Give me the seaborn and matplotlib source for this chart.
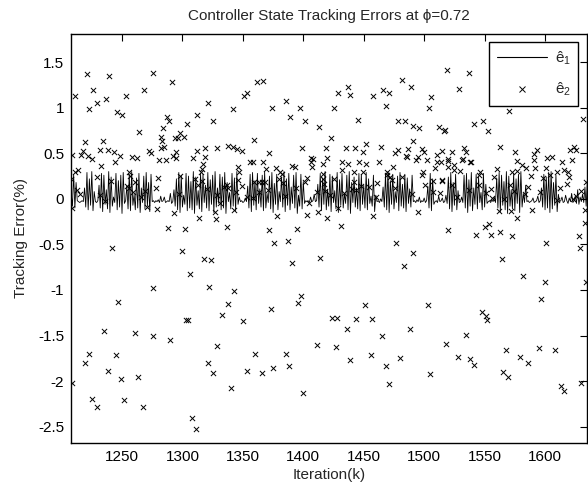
import numpy as np
import pandas as pd
import matplotlib
matplotlib.use("Agg")
import matplotlib.pyplot as plt
import seaborn as sns
from matplotlib.lines import Line2D

# ---------------- data ----------------
iter_start = 1208
e1 = [
    0.05, -0.08, 0.27, -0.10, 0.18, -0.02, -0.03, -0.04, -0.03, -0.02, -0.03, 0.12, -0.09, 0.29, -0.12, 0.22, -0.07, 0.30, -0.13, 0.08,
    -0.03, -0.04, -0.02, 0.15, -0.10, 0.28, -0.14, 0.26, -0.06, 0.10, -0.11, 0.30, -0.15, 0.24, -0.08, 0.02, -0.04, 0.28, -0.12, 0.20,
    -0.09, 0.26, -0.16, 0.29, -0.05, -0.02, 0.14, -0.11, 0.27, -0.13, 0.30, -0.07, 0.05, -0.12, 0.23, -0.10, 0.28, -0.15, 0.12, -0.04,
    0.25, -0.11, 0.29, -0.08, 0.18, -0.14, 0.27, -0.03, -0.02, -0.04, -0.02, -0.03, -0.01, -0.04, 0.03, -0.03, -0.02, 0.02, -0.04, -0.03,
    -0.02, -0.03, 0.06, -0.05, -0.03, 0.10, -0.08, 0.22, -0.12, 0.29, -0.15, 0.26, -0.09, 0.04, -0.06, 0.28, -0.13, 0.25, -0.10, 0.19,
    -0.12, 0.30, -0.16, 0.24, -0.07, 0.09, -0.11, 0.28, -0.14, 0.27, -0.04, 0.15, -0.10, 0.29, -0.13, 0.21, -0.06, 0.26, -0.15, 0.30,
    -0.09, 0.12, -0.05, 0.27, -0.12, 0.24, -0.10, 0.29, -0.16, 0.18, -0.03, 0.07, -0.11, 0.28, -0.08, 0.23, -0.13, 0.30, -0.06, 0.02,
    -0.03, -0.02, -0.04, -0.03, 0.01, -0.03, 0.14, -0.10, 0.27, -0.14, 0.29, -0.07, 0.20, -0.12, 0.28, -0.05, 0.11, -0.09, 0.26, -0.13,
    0.30, -0.10, 0.06, -0.04, 0.25, -0.11, 0.29, -0.15, 0.17, -0.06, 0.27, -0.12, 0.08, -0.03, 0.24, -0.09, 0.30, -0.14, 0.22, -0.07,
    0.28, -0.12, 0.13, -0.05, 0.26, -0.10, 0.29, -0.16, 0.04, -0.08, 0.27, -0.11, 0.19, -0.05, -0.02, -0.03, -0.02, -0.04, 0.02, -0.03,
    -0.02, 0.05, -0.03, -0.02, 0.16, -0.09, 0.28, -0.13, 0.23, -0.06, 0.30, -0.12, 0.10, -0.08, 0.27, -0.14, 0.25, -0.04, 0.09, -0.11,
    0.29, -0.15, 0.21, -0.07, 0.28, -0.10, 0.06, -0.05, 0.26, -0.12, 0.30, -0.16, 0.18, -0.04, 0.24, -0.09, 0.12, -0.11, 0.28, -0.13,
    0.27, -0.06, 0.15, -0.10, 0.29, -0.12, 0.22, -0.05, 0.03, -0.08, 0.26, -0.14, 0.04, -0.03, -0.02, -0.04, 0.00, -0.03, 0.13, -0.09,
    0.28, -0.12, 0.30, -0.15, 0.20, -0.06, 0.27, -0.11, 0.08, -0.04, 0.25, -0.13, 0.29, -0.08, 0.16, -0.10, 0.27, -0.14, 0.23, -0.05,
    0.11, -0.09, 0.26, -0.03, -0.02, -0.04, -0.01, -0.03, 0.02, -0.04, -0.02, -0.03, 0.01, -0.04, -0.02, 0.14, -0.10, 0.28, -0.13, 0.22,
    -0.06, -0.03, -0.02, -0.04, 0.03, -0.03, -0.02, 0.01, -0.04, -0.03, 0.04, -0.05, 0.24, -0.11, 0.29, -0.14, 0.18, -0.07, 0.27, -0.12,
    0.09, -0.04, -0.03, 0.02, -0.04, 0.26, -0.10, 0.28, -0.15, 0.21, -0.08, 0.29, -0.13, 0.12, -0.06, 0.27, -0.11, 0.24, -0.04, 0.07,
    -0.12, 0.28, -0.09, 0.16, -0.05, -0.03, -0.02, -0.04, -0.01, -0.03, 0.02, -0.04, 0.23, -0.10, 0.29, -0.14, 0.26, -0.07, 0.19, -0.12,
    0.30, -0.16, 0.25, -0.08, 0.10, -0.11, 0.28, -0.13, 0.22, -0.05, 0.27, -0.15, 0.30, -0.09, 0.06, -0.04, 0.15, -0.03, -0.02, -0.04,
    -0.03, -0.02, 0.01, -0.04, -0.03, -0.02, 0.03, -0.04, -0.02, 0.12, -0.09, 0.27, -0.12, 0.24, -0.10, 0.29, -0.15, 0.30, -0.11, 0.18,
    -0.07, 0.26, -0.14, 0.05, -0.03, -0.02, 0.02, -0.04, -0.03, 0.04, -0.02, -0.05, 0.01, -0.03, 0.06, -0.04, -0.02, 0.03, -0.05, 0.10,
    -0.06, 0.02, -0.03, 0.05, -0.04, 0.13, -0.08, 0.20,
]

e2_x = [
    # negative outliers
    1209, 1271, 1279, 1293, 1314, 1327, 1328, 1343, 1288, 1302, 1337, 1242, 1300, 1318, 1324, 1306,
    1276, 1322, 1343, 1247, 1338, 1333, 1303, 1305, 1350, 1235, 1261, 1276, 1290, 1329, 1223, 1245,
    1360, 1219, 1321, 1238, 1325, 1353, 1249, 1263, 1209, 1340, 1225, 1252, 1229, 1267, 1308, 1311,
    1378, 1403, 1412, 1420, 1429, 1458, 1495, 1372, 1395, 1431, 1520, 1376, 1387, 1477, 1491, 1391,
    1414, 1483, 1398, 1396, 1373, 1451, 1503, 1424, 1428, 1444, 1457, 1436, 1488, 1465, 1411, 1427,
    1518, 1386, 1439, 1456, 1480, 1366, 1375, 1388, 1468, 1505, 1471, 1400,
    1562, 1572, 1577, 1589, 1633, 1543, 1550, 1554, 1555, 1563, 1573, 1601, 1628, 1629, 1633, 1564,
    1582, 1600, 1634, 1597, 1548, 1551, 1552, 1535, 1528, 1538, 1541, 1568, 1579, 1586, 1595, 1608,
    1565, 1569, 1613, 1616, 1630,
    # positive points, left part
    1221, 1239, 1276, 1291, 1211, 1226, 1229, 1237, 1253, 1268, 1223, 1246, 1250, 1287, 1289, 1284,
    1304, 1312, 1264, 1321, 1325, 1353, 1351, 1342, 1362, 1359, 1234, 1219, 1296, 1298, 1301, 1283,
    1282, 1294, 1282, 1285, 1319, 1329, 1342, 1338, 1349, 1209, 1216, 1218, 1222, 1225, 1232, 1238,
    1243, 1244, 1248, 1258, 1262, 1272, 1274, 1281, 1286, 1292, 1295, 1295, 1309, 1312, 1319, 1317,
    1316, 1315, 1345, 1346, 1347, 1356, 1358, 1233, 1214, 1211, 1208, 1213, 1229, 1256, 1257, 1241,
    1254, 1256, 1261, 1269, 1232, 1280, 1298, 1310, 1316, 1320, 1329, 1337, 1334, 1338, 1346, 1349,
    1353, 1358, 1363, 1363,
    # positive points, middle part
    1519, 1367, 1482, 1489, 1437, 1429, 1439, 1458, 1466, 1471, 1506, 1386, 1374, 1397, 1425, 1468,
    1504, 1389, 1401, 1445, 1478, 1484, 1413, 1491, 1496, 1512, 1517, 1423, 1491, 1399, 1419, 1435,
    1443, 1452, 1464, 1487, 1372, 1449, 1478, 1476, 1498, 1500, 1515, 1511, 1367, 1369, 1377, 1381,
    1382, 1391, 1393, 1406, 1408, 1406, 1407, 1416, 1416, 1420, 1432, 1432, 1437, 1442, 1446, 1449,
    1452, 1463, 1469, 1474, 1485, 1486, 1493, 1495, 1502, 1509, 1511, 1514, 1520, 1359, 1366, 1368,
    1380, 1383, 1403, 1401, 1416, 1417, 1425, 1442, 1444, 1454, 1461, 1469, 1472, 1473, 1482, 1499,
    1498, 1507, 1515, 1507, 1440, 1422, 1411,
    # positive points, right part
    1537, 1529, 1541, 1549, 1553, 1516, 1570, 1631, 1563, 1523, 1533, 1535, 1575, 1593, 1591, 1621,
    1624, 1626, 1520, 1525, 1531, 1532, 1538, 1539, 1577, 1581, 1591, 1602, 1606, 1614, 1622, 1520,
    1525, 1530, 1545, 1546, 1560, 1558, 1573, 1577, 1584, 1592, 1601, 1598, 1604, 1610, 1616, 1619,
    1620, 1515, 1523, 1545, 1555, 1588, 1586, 1574, 1618, 1634, 1630, 1626, 1556, 1566, 1610,
    # points mingled with the line
    1215, 1236, 1259, 1266, 1278, 1297, 1313, 1331, 1344, 1371, 1385, 1394, 1405, 1418, 1434, 1448,
    1460, 1476, 1490, 1501, 1513, 1527, 1537, 1551, 1571, 1583, 1596, 1612, 1623,
]

e2_y = [
    -0.10, -0.09, -0.11, -0.16, -0.21, -0.14, -0.22, -0.12, -0.32, -0.33, -0.31, -0.54, -0.57, -0.66, -0.67, -0.82,
    -0.98, -0.97, -1.01, -1.13, -1.15, -1.27, -1.33, -1.33, -1.34, -1.45, -1.47, -1.50, -1.55, -1.62, -1.70, -1.71,
    -1.70, -1.80, -1.80, -1.89, -1.91, -1.89, -1.98, -1.95, -2.02, -2.08, -2.20, -2.21, -2.29, -2.29, -2.41, -2.53,
    -0.19, -0.18, -0.14, -0.21, -0.10, -0.19, -0.14, -0.34, -0.33, -0.30, -0.34, -0.48, -0.46, -0.48, -0.59, -0.70,
    -0.65, -0.74, -1.07, -1.14, -1.21, -1.16, -1.16, -1.31, -1.31, -1.32, -1.32, -1.43, -1.43, -1.51, -1.60, -1.63,
    -1.59, -1.70, -1.77, -1.71, -1.75, -1.91, -1.86, -1.84, -1.84, -1.92, -2.03, -2.13,
    -0.13, -0.13, -0.21, -0.12, -0.12, -0.40, -0.31, -0.28, -0.40, -0.36, -0.41, -0.48, -0.41, -0.54, -0.27, -0.66,
    -0.85, -0.91, -0.91, -1.10, -1.24, -1.29, -1.33, -1.49, -1.74, -1.76, -1.82, -1.66, -1.74, -1.80, -1.64, -1.66,
    -1.90, -1.95, -2.05, -2.11, -2.02,
    1.37, 1.35, 1.38, 1.28, 1.13, 1.19, 1.05, 1.10, 1.13, 1.20, 0.99, 0.95, 0.92, 0.90, 0.86, 0.78,
    0.82, 0.92, 0.73, 1.05, 0.86, 1.16, 1.13, 0.99, 1.28, 0.65, 0.64, 0.62, 0.67, 0.72, 0.68, 0.63,
    0.68, 0.67, 0.56, 0.57, 0.56, 0.56, 0.57, 0.58, 0.53, 0.48, 0.48, 0.53, 0.47, 0.44, 0.54, 0.54,
    0.52, 0.40, 0.47, 0.46, 0.45, 0.53, 0.50, 0.43, 0.43, 0.47, 0.51, 0.45, 0.45, 0.53, 0.46, 0.38,
    0.33, 0.30, 0.55, 0.35, 0.30, 0.40, 0.40, 0.36, 0.32, 0.29, 0.22, 0.10, 0.24, 0.29, 0.25, 0.20,
    0.14, 0.12, 0.18, 0.09, 0.04, 0.23, 0.25, 0.22, 0.20, 0.11, 0.04, 0.15, 0.13, 0.12, 0.21, 0.14,
    0.02, 0.01, 0.18, 0.07,
    1.41, 1.29, 1.30, 1.23, 1.23, 1.16, 1.14, 1.13, 1.19, 1.16, 1.12, 1.07, 1.00, 1.00, 1.00, 1.02,
    1.00, 0.90, 0.86, 0.87, 0.86, 0.86, 0.79, 0.80, 0.78, 0.79, 0.76, 0.67, 0.63, 0.56, 0.56, 0.56,
    0.56, 0.60, 0.57, 0.55, 0.50, 0.51, 0.54, 0.50, 0.55, 0.52, 0.53, 0.48, 0.40, 0.33, 0.34, 0.30,
    0.27, 0.36, 0.35, 0.45, 0.44, 0.40, 0.35, 0.38, 0.27, 0.45, 0.40, 0.32, 0.38, 0.30, 0.40, 0.30,
    0.38, 0.40, 0.29, 0.35, 0.47, 0.46, 0.43, 0.46, 0.43, 0.34, 0.40, 0.41, 0.44, 0.19, 0.19, 0.18,
    0.22, 0.17, 0.23, 0.18, 0.22, 0.16, 0.22, 0.18, 0.10, 0.13, 0.17, 0.26, 0.24, 0.21, 0.24, 0.30,
    0.26, 0.20, 0.20, 0.08, 0.11, 0.04, 0.07,
    1.38, 1.21, 0.82, 0.86, 0.75, 0.75, 0.97, 0.88, 0.57, 0.51, 0.56, 0.51, 0.51, 0.54, 0.49, 0.54,
    0.57, 0.54, 0.42, 0.37, 0.43, 0.44, 0.41, 0.40, 0.42, 0.37, 0.43, 0.45, 0.46, 0.40, 0.43, 0.35,
    0.32, 0.31, 0.26, 0.30, 0.33, 0.24, 0.30, 0.31, 0.34, 0.34, 0.34, 0.23, 0.26, 0.29, 0.32, 0.29,
    0.24, 0.21, 0.15, 0.15, 0.11, 0.25, 0.13, 0.09, 0.16, 0.18, 0.09, 0.03, 0.01, 0.00, -0.01,
    0.05, -0.02, 0.08, 0.02, 0.12, 0.05, 0.15, -0.04, 0.08, 0.10, 0.03, 0.12, -0.05, 0.09, 0.06, 0.14,
    0.02, 0.12, 0.05, 0.15, 0.06, 0.02, 0.10, 0.06, 0.15, 0.05, 0.08, 0.12, 0.00,
]

y_ticks = [-2.5, -2, -1.5, -1, -0.5, 0, 0.5, 1, 1.5]
y_tick_labels = ["-2.5", "-2", "-1.5", "-1", "-0.5", "0", "0.5", "1", "1.5"]
x_ticks = [1250, 1300, 1350, 1400, 1450, 1500, 1550, 1600]
x_tick_labels = ["1250", "1300", "1350", "1400", "1450", "1500", "1550", "1600"]

title_text = "Controller State Tracking Errors at \u03d5=0.72"
x_label = "Iteration(k)"
y_label = "Tracking Error(%)"
legend_labels = ["\u00ea$_1$", "\u00ea$_2$"]

# ---------------- style ----------------
sns.set_style("white")
plt.rcParams["font.family"] = ["Liberation Sans", "DejaVu Sans"]
plt.rcParams["mathtext.default"] = "regular"
plt.rcParams["axes.unicode_minus"] = False

FS = 11

df1 = pd.DataFrame({"k": np.arange(iter_start, iter_start + len(e1)), "e": e1})
df2 = pd.DataFrame({"k": e2_x, "e": e2_y})

fig = plt.figure(figsize=(5.88, 4.86), dpi=100)
ax = fig.add_axes([71 / 588, 1 - 443 / 486, (587 - 71) / 588, (443 - 34) / 486])

sns.lineplot(data=df1, x="k", y="e", ax=ax, color="black", linewidth=0.6,
             estimator=None, sort=True)
sns.scatterplot(data=df2, x="k", y="e", ax=ax, color="black", marker="x",
                s=14, linewidth=0.7)

ax.set_xlim(1207.8, 1634.7)
ax.set_ylim(-2.68, 1.81)
ax.set_xticks(x_ticks)
ax.set_xticklabels(x_tick_labels)
ax.set_yticks(y_ticks)
ax.set_yticklabels(y_tick_labels)
ax.tick_params(direction="in", top=True, right=True, length=5, width=0.8,
               labelsize=FS, colors="black", pad=5)
for sp in ax.spines.values():
    sp.set_visible(True)
    sp.set_color("black")
    sp.set_linewidth(1.0)

ax.set_title(title_text, fontsize=FS, pad=10)
ax.set_xlabel(x_label, fontsize=FS, labelpad=3)
ax.set_ylabel(y_label, fontsize=FS, labelpad=7)

handles = [
    Line2D([0], [0], color="black", linewidth=0.8),
    Line2D([0], [0], color="black", marker="x", linestyle="none", markersize=4,
           markeredgewidth=0.7),
]
leg = ax.legend(handles, legend_labels, loc="upper right",
                bbox_to_anchor=(0.983, 0.980), borderaxespad=0,
                fancybox=False, framealpha=1, edgecolor="black",
                fontsize=FS, handlelength=3.3, labelspacing=0.9,
                borderpad=0.5, handletextpad=0.5)
leg.get_frame().set_linewidth(1.0)

fig.savefig("out.png", dpi=100)
